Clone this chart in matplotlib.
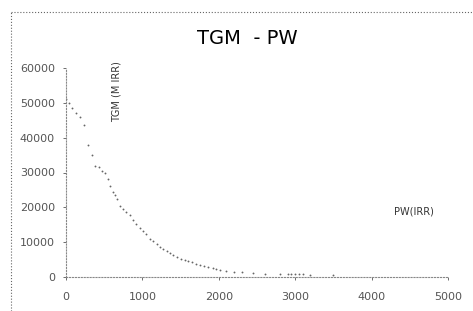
import matplotlib
matplotlib.use('Agg')
import matplotlib.pyplot as plt
from matplotlib.lines import Line2D

# PW (IRR) vs TGM (M IRR)
pw = [0, 40, 80, 130, 180, 230, 290, 340, 380, 430, 470, 510, 545, 575, 610,
      640, 670, 705, 740, 780, 835, 880, 920, 965, 1010, 1050, 1100, 1140,
      1185, 1230, 1270, 1320, 1360, 1400, 1450, 1500, 1555, 1600, 1650, 1700,
      1750, 1800, 1860, 1920, 1960, 2010, 2100, 2200, 2300, 2450, 2600, 2800,
      2900, 2950, 3000, 3050, 3100, 3200, 3500]
tgm = [51000, 50000, 48500, 47000, 46000, 43500, 38000, 35000, 32000, 31500,
       30500, 30000, 28000, 26000, 24500, 23500, 22500, 20500, 19500, 18800,
       17700, 16500, 15200, 14000, 13200, 12300, 11000, 10300, 9500, 8600,
       8000, 7400, 6900, 6300, 5700, 5300, 4900, 4600, 4200, 3800, 3400, 3100,
       2800, 2500, 2300, 2000, 1700, 1500, 1300, 1100, 1000, 900, 850, 800,
       800, 750, 750, 700, 600]

x_ticks = [0, 1000, 2000, 3000, 4000, 5000]
y_ticks = [0, 10000, 20000, 30000, 40000, 50000, 60000]

fig = plt.figure(figsize=(4.73, 3.11), dpi=100)
ax = fig.add_axes([66/473, 1 - 277/311, (448 - 66)/473, (277 - 68)/311])

ax.scatter(pw, tgm, s=1.8, color='#666666', linewidths=0)

ax.set_xlim(0, 5000)
ax.set_ylim(0, 60000)
ax.set_xticks(x_ticks)
ax.set_yticks(y_ticks)
ax.tick_params(labelsize=8, colors='#555555', length=2, width=0.6)
ax.tick_params(axis='y', pad=6)
ax.tick_params(axis='x', pad=9)
for s in ['top', 'right']:
    ax.spines[s].set_visible(False)
for s in ['left', 'bottom']:
    ax.spines[s].set_color('#888888')
    ax.spines[s].set_linestyle(':')
    ax.spines[s].set_linewidth(0.8)

fig.text(247/473, 1 - 38/311, 'TGM  - PW', ha='center', va='center',
         fontsize=14, color='black')
fig.text(117/473, 1 - 92/311, 'TGM (M IRR)', rotation=90, ha='center',
         va='center', fontsize=7, color='#333333')
fig.text(414/473, 1 - 212/311, 'PW(IRR)', ha='center', va='center',
         fontsize=7, color='#333333')

# dotted chart-area border
fig.add_artist(Line2D([11/473, 1], [1 - 12/311, 1 - 12/311], transform=fig.transFigure,
                      color='#666666', linestyle=':', linewidth=0.8))
fig.add_artist(Line2D([11/473, 11/473], [0, 1 - 12/311], transform=fig.transFigure,
                      color='#666666', linestyle=':', linewidth=0.8))

fig.savefig('out.png', dpi=100)
